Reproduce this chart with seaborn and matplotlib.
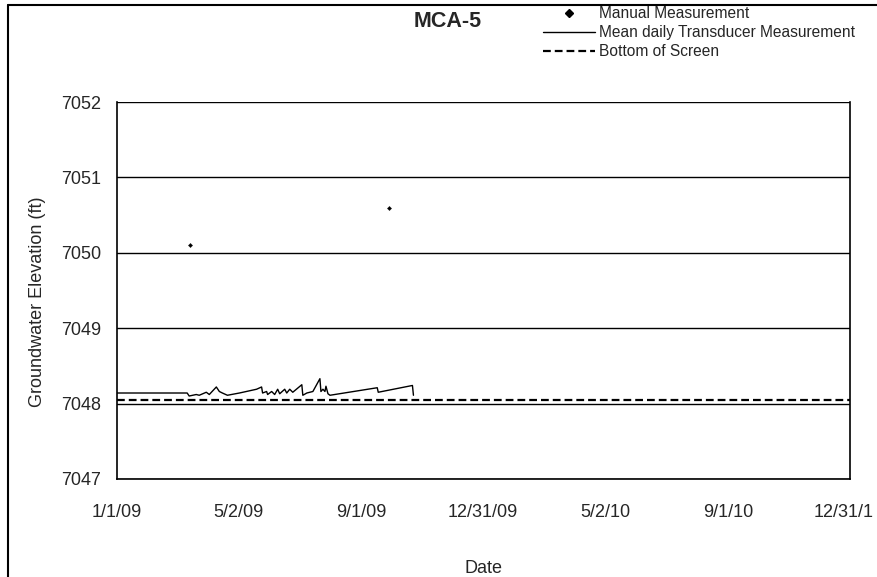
import pandas as pd
import numpy as np
import matplotlib.pyplot as plt
import matplotlib.transforms as mtransforms
from matplotlib.lines import Line2D
import seaborn as sns

# data
transducer_dates = ['2009-01-01', '2009-03-12', '2009-03-14', '2009-03-21', '2009-03-24',
                    '2009-03-31', '2009-04-03', '2009-04-10', '2009-04-13', '2009-04-16',
                    '2009-04-21', '2009-05-03', '2009-05-20', '2009-05-25', '2009-05-26',
                    '2009-05-30', '2009-05-31', '2009-06-04', '2009-06-07', '2009-06-10',
                    '2009-06-12', '2009-06-17', '2009-06-19', '2009-06-22', '2009-06-25',
                    '2009-07-04', '2009-07-05', '2009-07-09', '2009-07-15', '2009-07-22',
                    '2009-07-23', '2009-07-25', '2009-07-27', '2009-07-28', '2009-07-30',
                    '2009-08-01', '2009-09-17', '2009-09-18', '2009-10-22', '2009-10-23']
transducer_values = [7048.14, 7048.14, 7048.10, 7048.12, 7048.11,
                     7048.15, 7048.12, 7048.22, 7048.16, 7048.14,
                     7048.11, 7048.14, 7048.19, 7048.22, 7048.14,
                     7048.16, 7048.12, 7048.16, 7048.12, 7048.19,
                     7048.13, 7048.19, 7048.14, 7048.19, 7048.15,
                     7048.25, 7048.11, 7048.14, 7048.16, 7048.33,
                     7048.16, 7048.19, 7048.16, 7048.23, 7048.13,
                     7048.11, 7048.21, 7048.15, 7048.24, 7048.11]

manual_dates = ['2009-03-15', '2009-09-29']
manual_values = [7050.10, 7050.60]

screen_dates = ['2009-01-01', '2010-12-31']
screen_values = [7048.05, 7048.05]

tick_dates = ['2009-01-01', '2009-05-02', '2009-09-01', '2009-12-31',
              '2010-05-02', '2010-09-01', '2010-12-31']
tick_labels = ['1/1/09', '5/2/09', '9/1/09', '12/31/09', '5/2/10', '9/1/10', '12/31/1']

trans_df = pd.DataFrame({'date': pd.to_datetime(transducer_dates), 'elev': transducer_values})
manual_df = pd.DataFrame({'date': pd.to_datetime(manual_dates), 'elev': manual_values})
screen_df = pd.DataFrame({'date': pd.to_datetime(screen_dates), 'elev': screen_values})

sns.set_style('white')
plt.rcParams['font.family'] = ['Liberation Sans', 'DejaVu Sans']

fig = plt.figure(figsize=(8.78, 5.77), dpi=100)
ax = fig.add_axes([0.133, 0.170, 0.835, 0.653])

# gridlines at whole feet
for v in range(7047, 7053):
    ax.axhline(v, color='black', lw=1.0, zorder=1)

sns.lineplot(data=screen_df, x='date', y='elev', ax=ax, color='black', lw=1.6,
             linestyle=(0, (3.5, 1.8)), zorder=3)
sns.lineplot(data=trans_df, x='date', y='elev', ax=ax, color='black', lw=1.0, zorder=4)
sns.scatterplot(data=manual_df, x='date', y='elev', ax=ax, color='black', marker='D',
                s=5, edgecolor='black', zorder=5)

ax.set_xlim(pd.Timestamp('2009-01-01'), pd.Timestamp('2010-12-31'))
ax.set_ylim(7047, 7052)
ax.set_xticks(pd.to_datetime(tick_dates))
ax.set_xticklabels(tick_labels, fontsize=13)
ax.set_yticks(range(7047, 7053))
ax.set_yticklabels([str(v) for v in range(7047, 7053)], fontsize=13)
ax.tick_params(axis='y', direction='inout', length=10, width=1, pad=6)
ax.tick_params(axis='x', direction='out', length=5, width=1, pad=13)

# last label sits against the right edge, like the clipped original
last = ax.get_xticklabels()[-1]
last.set_transform(last.get_transform() + mtransforms.ScaledTranslation(-6 / 100, 0, fig.dpi_scale_trans))

for s in ax.spines.values():
    s.set_color('black')
    s.set_linewidth(1.2)
ax.spines['top'].set_visible(False)

ax.set_xlabel('Date', fontsize=13, labelpad=28)
ax.set_ylabel('Groundwater Elevation (ft)', fontsize=13, labelpad=8)
ax.yaxis.set_label_coords(-0.096, 0.47)

fig.text(0.510, 0.962, 'MCA-5', fontsize=15.5, fontweight='bold', ha='center', va='center')

handles = [Line2D([], [], color='black', marker='D', markersize=4, linestyle='none'),
           Line2D([], [], color='black', lw=1.0),
           Line2D([], [], color='black', lw=1.6, linestyle=(0, (3.5, 1.8)))]
fig.legend(handles, ['Manual Measurement', 'Mean daily Transducer Measurement', 'Bottom of Screen'],
           loc='upper left', bbox_to_anchor=(0.603, 1.013), frameon=False, fontsize=11.2,
           handlelength=3.3, handletextpad=0.25, labelspacing=0.25)

# outer chart border (scanned page edge)
fig.add_artist(Line2D([0.009, 1.0], [0.991, 0.991], color='black', lw=1.5, transform=fig.transFigure))
fig.add_artist(Line2D([0.009, 0.009], [0.0, 0.991], color='black', lw=1.5, transform=fig.transFigure))

fig.savefig('out.png', dpi=100)
